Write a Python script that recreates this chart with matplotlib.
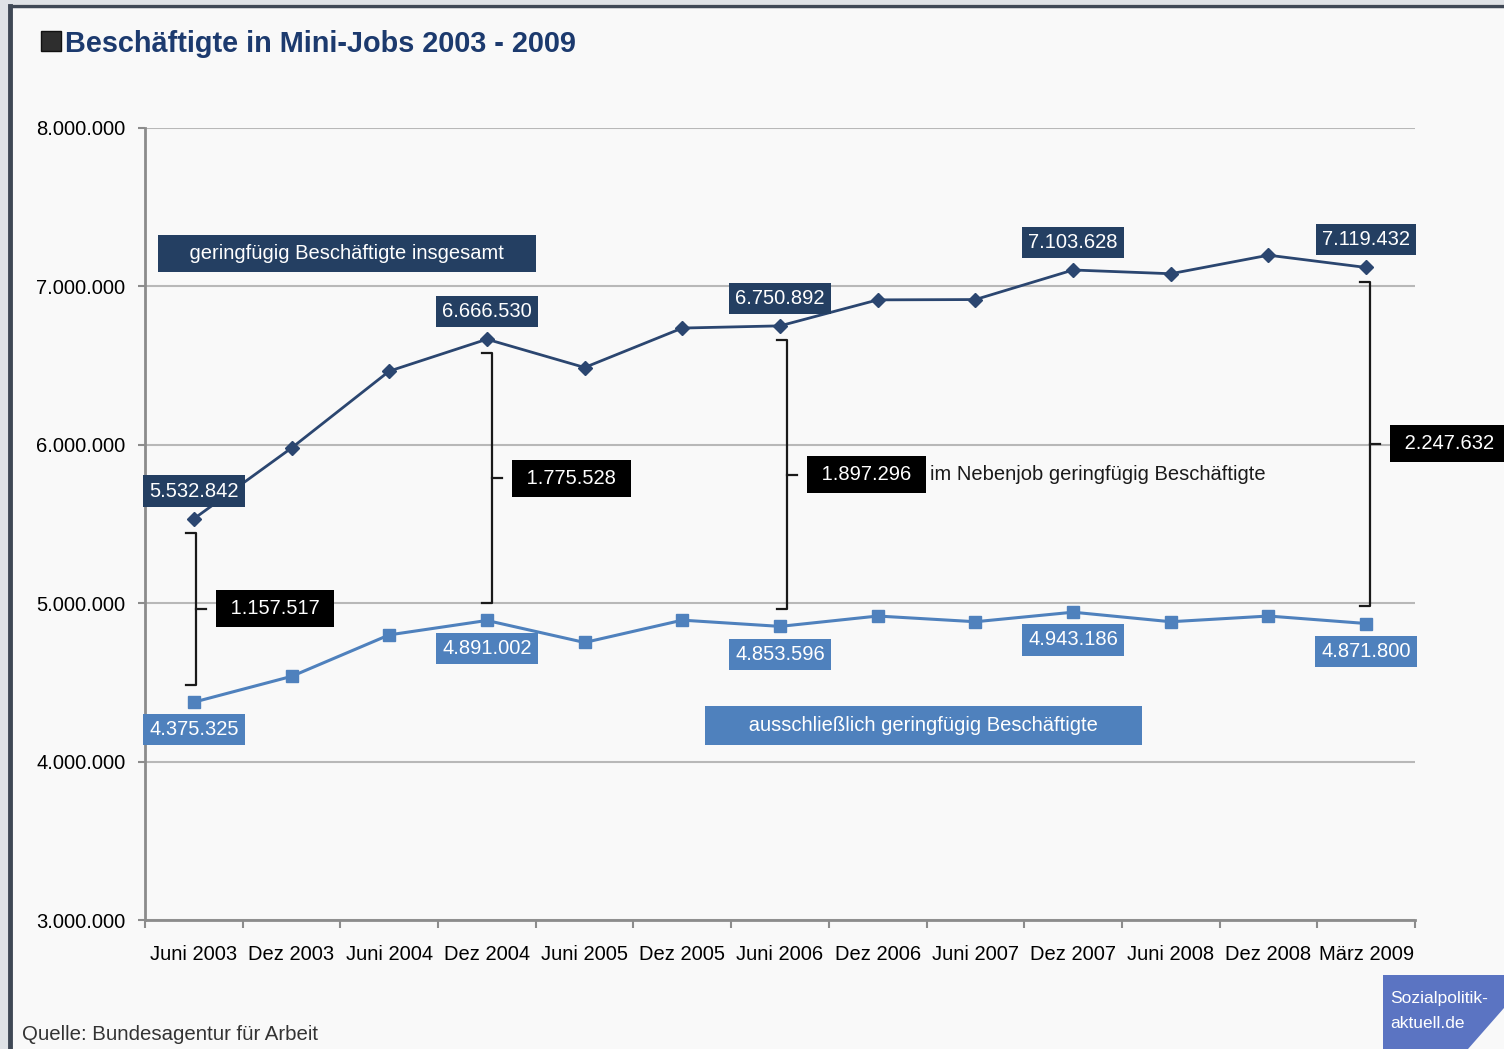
import numpy as np
import matplotlib.pyplot as plt
from matplotlib.patches import Rectangle, Polygon

plt.rcParams['font.family'] = ['Liberation Sans', 'DejaVu Sans']

# data
categories = ['Juni 2003', 'Dez 2003', 'Juni 2004', 'Dez 2004', 'Juni 2005',
              'Dez 2005', 'Juni 2006', 'Dez 2006', 'Juni 2007', 'Dez 2007',
              'Juni 2008', 'Dez 2008', 'März 2009']
total = [5532842, 5980000, 6465000, 6666530, 6488000, 6737000, 6750892,
         6915000, 6917000, 7103628, 7080000, 7197000, 7119432]
exclusive = [4375325, 4538000, 4800000, 4891002, 4752000, 4893000, 4853596,
             4919000, 4883000, 4943186, 4883000, 4919000, 4871800]
labelled = [0, 3, 6, 9, 12]
bracket_idx = [0, 3, 6, 12]
yticks = [3000000, 4000000, 5000000, 6000000, 7000000, 8000000]

# layout / style
bracket_shift = [0.02, 0.05, 0.07, 0.04]
DARK = '#243f62'
LINE_DARK = '#2b4670'
LIGHT = '#4f81bd'
BG = '#f9f9f9'
W, H = 1504, 1049


def de(v):
    return f'{v:,}'.replace(',', '.')


def px(x, y):
    return x / W, 1 - y / H


fig = plt.figure(figsize=(W / 100, H / 100), dpi=100, facecolor=BG)

# frame of the screenshot
fig.add_artist(Rectangle((0, 0), 9 / W, 1, transform=fig.transFigure,
                         facecolor='#dfe2e6', edgecolor='none'))
fig.add_artist(Rectangle(px(0, 4), 1, 4 / H, transform=fig.transFigure,
                         facecolor='#dfe2e6', edgecolor='none'))
fig.add_artist(plt.Line2D([10 / W, 10 / W], [0, 1 - 6 / H],
                          transform=fig.transFigure, color='#3f4855', lw=3.5))
fig.add_artist(plt.Line2D([10 / W, 1], [1 - 6 / H, 1 - 6 / H],
                          transform=fig.transFigure, color='#3f4855', lw=2.5))

ax = fig.add_axes([145 / W, 1 - 920 / H, 1270 / W, 792 / H])
ax.set_facecolor(BG)
x = np.arange(len(categories))

ax.plot(x, total, color=LINE_DARK, lw=2, marker='D', ms=7, zorder=4)
ax.plot(x, exclusive, color=LIGHT, lw=2.2, marker='s', ms=8, zorder=4)

ax.set_xlim(-0.5, len(categories) - 0.5)
ax.set_ylim(yticks[0], yticks[-1])
ax.set_yticks(yticks)
ax.set_yticklabels([de(v) for v in yticks], fontsize=14.5)
ax.set_xticks(x)
ax.set_xticklabels(categories, fontsize=14.5)
ax.set_xticks(np.arange(len(categories) + 1) - 0.5, minor=True)
ax.tick_params(axis='x', which='major', length=0, pad=18)
ax.tick_params(axis='x', which='minor', length=6, width=1.5, color='#8c8c8c')
ax.tick_params(axis='y', length=5, width=1.5, color='#8c8c8c', pad=9)
ax.grid(axis='y', color='#b8b8b8', lw=1.5)
ax.set_axisbelow(True)
for s in ['top', 'right']:
    ax.spines[s].set_visible(False)
for s in ['left', 'bottom']:
    ax.spines[s].set_color('#8c8c8c')
    ax.spines[s].set_linewidth(2)

# value labels
for i in labelled:
    ax.annotate(de(total[i]), (i, total[i]), xytext=(0, 20),
                textcoords='offset points', ha='center', va='center',
                fontsize=14.5, color='white', zorder=5,
                bbox=dict(boxstyle='square,pad=0.3', fc=DARK, ec='none'))
    ax.annotate(de(exclusive[i]), (i, exclusive[i]), xytext=(0, -20),
                textcoords='offset points', ha='center', va='center',
                fontsize=14.5, color='white', zorder=5,
                bbox=dict(boxstyle='square,pad=0.3', fc=LIGHT, ec='none'))

# brackets with the differences
for i, dx in zip(bracket_idx, bracket_shift):
    xb = i + dx
    top = total[i] - 90000
    bot = exclusive[i] + 110000
    mid = (top + bot) / 2
    ax.plot([xb - 0.1, xb, xb, xb - 0.1], [top, top, bot, bot],
            color='#1a1a1a', lw=1.6, clip_on=False, zorder=3)
    ax.plot([xb, xb + 0.1], [mid, mid], color='#1a1a1a', lw=1.6,
            clip_on=False, zorder=3)
    ax.annotate(' ' + de(total[i] - exclusive[i]) + ' ', (xb + 0.1, mid),
                xytext=(14, 0), textcoords='offset points', ha='left',
                va='center', fontsize=14.5, color='white', zorder=5,
                annotation_clip=False,
                bbox=dict(boxstyle='square,pad=0.45', fc='black', ec='none'))
    if i == 6:
        ax.annotate('im Nebenjob geringfügig Beschäftigte', (xb + 0.1, mid),
                    xytext=(96, 0), textcoords='offset points', ha='left',
                    va='center', fontsize=14.5, color='#1a1a1a')

# series names
ax.text(0.159, 0.841, '    geringfügig Beschäftigte insgesamt    ',
        transform=ax.transAxes, ha='center', va='center', fontsize=14.5,
        color='white', bbox=dict(boxstyle='square,pad=0.45', fc=DARK, ec='none'))
ax.text(0.613, 0.246, '      ausschließlich geringfügig Beschäftigte      ',
        transform=ax.transAxes, ha='center', va='center', fontsize=14.5,
        color='white', bbox=dict(boxstyle='square,pad=0.5', fc=LIGHT, ec='none'))

# title
fig.add_artist(Rectangle(px(41, 51), 20 / W, 20 / H, transform=fig.transFigure,
                         facecolor='#2e2e2e', edgecolor='#111111', lw=1))
fig.text(*px(65, 52), 'Beschäftigte in Mini-Jobs 2003 - 2009', fontsize=20.8,
         weight='bold', color='#1c3a6e', va='baseline', ha='left')

fig.text(*px(22, 1040), 'Quelle: Bundesagentur für Arbeit', fontsize=14.7,
         color='#333333', va='baseline', ha='left')

# logo
logo = [(1383, 975), (1504, 975), (1504, 1008), (1468, 1049), (1383, 1049)]
fig.add_artist(Polygon([px(a, b) for a, b in logo], closed=True,
                       transform=fig.transFigure, facecolor='#5b74c2',
                       edgecolor='none'))
fig.text(*px(1390, 1003), 'Sozialpolitik-', fontsize=12.5, color='white',
         va='baseline', ha='left')
fig.text(*px(1390, 1028), 'aktuell.de', fontsize=12.5, color='white',
         va='baseline', ha='left')

fig.savefig('out.png', dpi=100, facecolor=BG)
